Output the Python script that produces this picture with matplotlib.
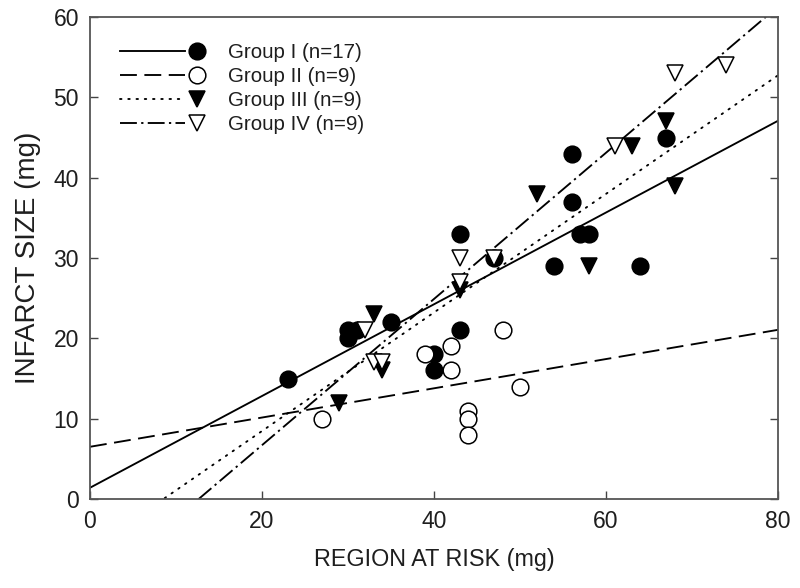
import numpy as np
import matplotlib
matplotlib.use("Agg")
import matplotlib.pyplot as plt
from matplotlib.legend_handler import HandlerLine2DCompound

# ---- data ----
g1_x = [23, 30, 30, 31, 35, 40, 40, 43, 43, 47, 54, 56, 56, 57, 58, 64, 67]
g1_y = [15, 21, 20, 21, 22, 18, 16, 21, 33, 30, 29, 37, 43, 33, 33, 29, 45]
g2_x = [27, 39, 42, 42, 44, 44, 44, 48, 50]
g2_y = [10, 18, 19, 16, 11, 10, 8, 21, 14]
g3_x = [29, 33, 34, 43, 52, 58, 63, 67, 68]
g3_y = [12, 23, 16, 26, 38, 29, 44, 47, 39]
g4_x = [32, 33, 34, 43, 43, 47, 61, 68, 74]
g4_y = [21, 17, 17, 30, 27, 30, 44, 53, 54]

# regression lines (intercept, slope)
line_intercepts = [1.4, 6.5, -6.3, -11.5]
line_slopes = [0.571, 0.182, 0.738, 0.910]

labels = ['Group I (n=17)', 'Group II (n=9)', 'Group III (n=9)', 'Group IV (n=9)']
x_ticks = [0, 20, 40, 60, 80]
y_ticks = [0, 10, 20, 30, 40, 50, 60]

# ---- fonts ----
fam = ['Liberation Sans', 'DejaVu Sans']
plt.rcParams['font.family'] = fam

tick_fs = 16.5
label_fs = 16.8
leg_fs = 14.8
ylabel_fs = 20

text_col = '#1e1e1e'

# ---- figure ----
fig = plt.figure(figsize=(8, 5.88), dpi=100)
ax = fig.add_axes([90/800, 1-499/588, (778-90)/800, (499-17)/588])

lw = 1.35
ms = 12
styles = [
    dict(linestyle='-'),
    dict(linestyle=(0, (9, 4))),
    dict(linestyle=(0, (0.8, 3.6)), dash_capstyle='round'),
    dict(linestyle=(0, (9, 2.3, 1.2, 2.3))),
]
markers = [
    dict(marker='o', mfc='black', mec='black'),
    dict(marker='o', mfc='white', mec='black'),
    dict(marker='v', mfc='black', mec='black'),
    dict(marker='v', mfc='white', mec='black'),
]
xs = [g1_x, g2_x, g3_x, g4_x]
ys = [g1_y, g2_y, g3_y, g4_y]

xl = np.array([0, 80])
for i in range(4):
    yl = line_intercepts[i] + line_slopes[i] * xl
    ax.plot(xl, yl, color='black', lw=lw, zorder=2, **styles[i])

for i in range(4):
    ax.plot(xs[i], ys[i], ls='none', ms=ms, mew=1.1, zorder=3, **markers[i])

handles = []
for i in range(4):
    h = matplotlib.lines.Line2D([], [], color='black', lw=lw, ms=ms, mew=1.1,
                                **styles[i], **markers[i])
    handles.append(h)


class EndMarkerHandler(HandlerLine2DCompound):
    def get_xdata(self, legend, xdescent, ydescent, width, height, fontsize):
        xdata = np.array([-xdescent, -xdescent + width * 0.85])
        xm = np.array([-xdescent + width])
        return xdata, xm


leg_fs_px = leg_fs * 100 / 72
leg = ax.legend(handles, labels, loc='upper left',
                bbox_to_anchor=((120-90)/688, (499-43)/482),
                frameon=False, borderpad=0, borderaxespad=0,
                handlelength=77/leg_fs_px, handletextpad=31/leg_fs_px,
                labelspacing=0.24,
                prop={'family': fam, 'size': leg_fs},
                handler_map={h: EndMarkerHandler() for h in handles})
for t in leg.get_texts():
    t.set_color(text_col)

ax.set_xlim(0, 80)
ax.set_ylim(0, 60)
ax.set_xticks(x_ticks)
ax.set_yticks(y_ticks)
ax.tick_params(direction='in', length=6, width=1.0, colors='#444444',
               labelcolor=text_col, labelsize=tick_fs, right=True, top=False)
ax.tick_params(axis='x', pad=8)
ax.tick_params(axis='y', pad=8)
for s in ax.spines.values():
    s.set_color('#555555')
    s.set_linewidth(1.3)

ax.set_xlabel('REGION AT RISK (mg)', fontsize=label_fs, color=text_col,
              labelpad=11)
ax.set_ylabel('INFARCT SIZE (mg)', fontsize=ylabel_fs, color=text_col,
              labelpad=9)

fig.savefig('out.png', dpi=100)
